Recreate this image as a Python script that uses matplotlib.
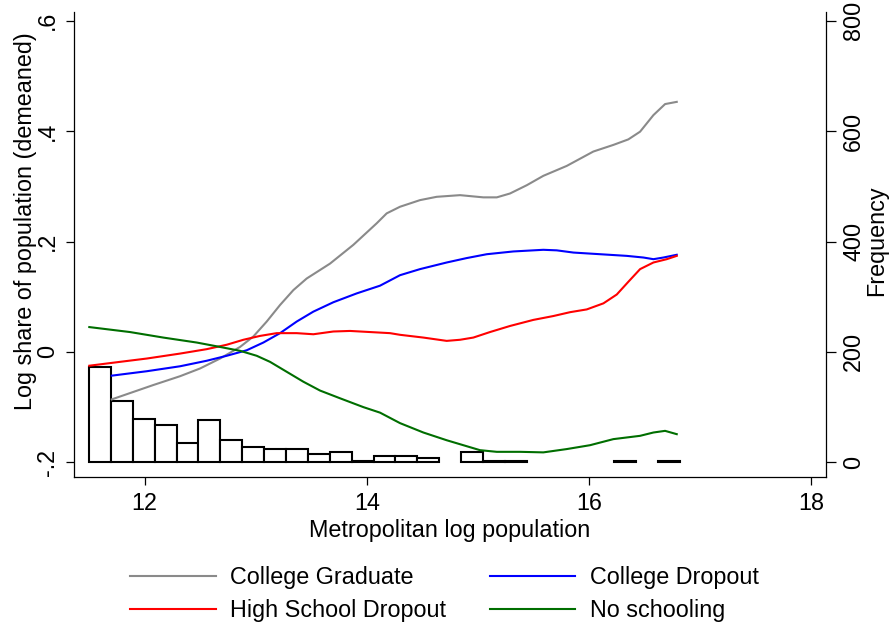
import numpy as np
import matplotlib
matplotlib.use("Agg")
import matplotlib.pyplot as plt
from matplotlib.lines import Line2D

plt.rcParams['font.family'] = ['Liberation Sans', 'DejaVu Sans']

# Smoothed log shares by education group
grad_x = [11.705, 12.079, 12.320, 12.500, 12.680, 12.860, 12.980, 13.100, 13.220, 13.340,
          13.460, 13.670, 13.880, 14.090, 14.180, 14.300, 14.480, 14.630, 14.840, 15.050,
          15.171, 15.290, 15.441, 15.590, 15.801, 16.040, 16.220, 16.355, 16.461, 16.581,
          16.686, 16.791]
grad_y = [-0.086, -0.060, -0.044, -0.030, -0.012, 0.009, 0.028, 0.055, 0.085, 0.112,
          0.133, 0.160, 0.194, 0.233, 0.251, 0.263, 0.275, 0.281, 0.284, 0.280,
          0.280, 0.287, 0.302, 0.319, 0.337, 0.363, 0.375, 0.385, 0.399, 0.429,
          0.449, 0.453]

cdrop_x = [11.705, 12.020, 12.320, 12.560, 12.740, 12.920, 13.070, 13.220, 13.370, 13.520,
           13.700, 13.910, 14.120, 14.300, 14.480, 14.720, 14.900, 15.081, 15.320, 15.590,
           15.711, 15.861, 16.101, 16.341, 16.491, 16.581, 16.671, 16.791]
cdrop_y = [-0.043, -0.035, -0.026, -0.016, -0.007, 0.003, 0.017, 0.034, 0.055, 0.073,
           0.090, 0.106, 0.120, 0.139, 0.150, 0.162, 0.170, 0.177, 0.182, 0.185,
           0.184, 0.180, 0.177, 0.174, 0.171, 0.168, 0.171, 0.176]

hsd_x = [11.503, 11.779, 12.020, 12.320, 12.560, 12.740, 12.890, 13.040, 13.190, 13.370,
         13.520, 13.700, 13.850, 14.030, 14.210, 14.300, 14.510, 14.720, 14.840, 14.960,
         15.110, 15.290, 15.500, 15.680, 15.831, 15.981, 16.131, 16.251, 16.355, 16.461,
         16.581, 16.701, 16.791]
hsd_y = [-0.025, -0.018, -0.012, -0.003, 0.005, 0.013, 0.022, 0.029, 0.034, 0.034,
         0.032, 0.037, 0.038, 0.036, 0.034, 0.031, 0.026, 0.020, 0.022, 0.026,
         0.036, 0.047, 0.058, 0.065, 0.072, 0.077, 0.088, 0.104, 0.127, 0.150,
         0.162, 0.168, 0.174]

nos_x = [11.503, 11.869, 12.169, 12.470, 12.680, 12.860, 13.010, 13.130, 13.280, 13.430,
         13.580, 13.760, 13.970, 14.120, 14.300, 14.510, 14.720, 14.870, 15.020, 15.171,
         15.381, 15.590, 15.801, 16.010, 16.220, 16.461, 16.581, 16.686, 16.791]
nos_y = [0.045, 0.036, 0.026, 0.017, 0.009, 0.002, -0.007, -0.018, -0.036, -0.054,
         -0.070, -0.084, -0.100, -0.110, -0.129, -0.146, -0.160, -0.169, -0.178, -0.181,
         -0.181, -0.182, -0.176, -0.169, -0.158, -0.152, -0.146, -0.143, -0.149]

# Histogram of metropolitan log population (27 equal bins)
hist_min, hist_max, hist_bins = 11.50, 16.82, 27
hist_counts = [172, 111, 79, 67, 35, 76, 40, 28, 24, 24,
               15, 19, 2, 11, 11, 8, 0, 19, 2, 2,
               0, 0, 0, 0, 2, 0, 2]

left_ticks = [-0.2, 0.0, 0.2, 0.4, 0.6]
left_labels = ["-.2", "0", ".2", ".4", ".6"]
right_ticks = [0, 200, 400, 600, 800]
x_ticks = [12, 14, 16, 18]

FS = 16.8
W, H = 889, 627
fig = plt.figure(figsize=(W / 100, H / 100), dpi=100)
L, R, B, T = 74.3, 825.5, 477.0, 12.0
ax = fig.add_axes([L / W, 1 - B / H, (R - L) / W, (B - T) / H])
ax2 = ax.twinx()

y_lo, y_hi = -0.2266, 0.6158
ax.set_xlim(11.368, 18.13)
ax.set_ylim(y_lo, y_hi)
ax2.set_ylim((y_lo + 0.2) * 1000, (y_hi + 0.2) * 1000)

# histogram behind the lines
edges = np.linspace(hist_min, hist_max, hist_bins + 1)
counts = np.array(hist_counts, dtype=float)
keep = counts > 0
ax2.bar(edges[:-1][keep], counts[keep], width=np.diff(edges)[keep], align='edge',
        facecolor='white', edgecolor='black', linewidth=1.5)
ax.set_zorder(ax2.get_zorder() + 1)
ax.patch.set_visible(False)

lw = 1.5
c_grad, c_cd, c_hs, c_no = '#8a8a8a', '#0000ff', '#ff0000', '#006e00'
ax.plot(grad_x, grad_y, color=c_grad, lw=lw)
ax.plot(cdrop_x, cdrop_y, color=c_cd, lw=lw)
ax.plot(hsd_x, hsd_y, color=c_hs, lw=lw)
ax.plot(nos_x, nos_y, color=c_no, lw=lw)

for a in (ax, ax2):
    a.spines['top'].set_visible(False)
    for s in ('left', 'right', 'bottom'):
        a.spines[s].set_linewidth(0.9)
ax.spines['right'].set_visible(False)
ax2.spines['left'].set_visible(False)
ax2.spines['bottom'].set_visible(False)

ax.set_xticks(x_ticks)
ax.set_yticks(left_ticks, left_labels)
ax2.set_yticks(right_ticks)
ax.tick_params(axis='both', direction='out', length=6, width=0.9, labelsize=FS, pad=5)
ax2.tick_params(axis='y', direction='out', length=7, width=0.9, labelsize=FS, pad=5)
for lab in ax.get_yticklabels():
    lab.set_rotation(90)
    lab.set_va('center')
for lab in ax2.get_yticklabels():
    lab.set_rotation(90)
    lab.set_va('center')

ax.set_xlabel("Metropolitan log population", fontsize=FS)
ax.xaxis.label.set_va('center')
ax.xaxis.set_label_coords(0.5, -0.114)
ax.set_ylabel("Log share of population (demeaned)", fontsize=FS)
ax.yaxis.label.set_va('center')
ax.yaxis.set_label_coords(-0.0656, 0.55)
ax2.set_ylabel("Frequency", fontsize=FS, rotation=90)
ax2.yaxis.label.set_va('center')
ax2.yaxis.set_label_coords(1.0686, 0.5075)

handles = [Line2D([], [], color=c_grad, lw=lw), Line2D([], [], color=c_hs, lw=lw),
           Line2D([], [], color=c_cd, lw=lw), Line2D([], [], color=c_no, lw=lw)]
labels = ["College Graduate", "High School Dropout", "College Dropout", "No schooling"]
fig.legend(handles, labels, loc='center', bbox_to_anchor=(0.500, 0.0526), ncol=2,
           frameon=False, fontsize=FS, handlelength=3.65, handletextpad=0.64,
           columnspacing=1.85, labelspacing=0.42, borderpad=0)

fig.savefig("out.png", dpi=100)
